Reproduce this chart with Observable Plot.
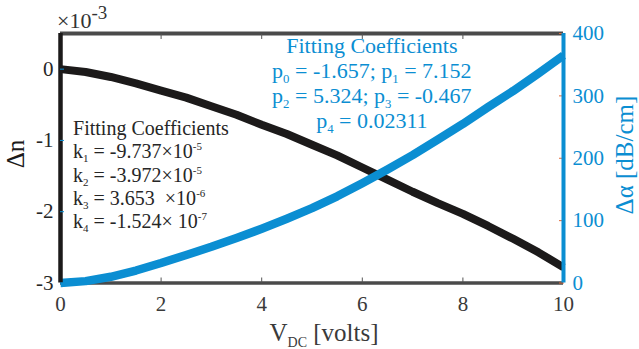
<!DOCTYPE html>
<html><head><meta charset="utf-8">
<script src="https://cdn.jsdelivr.net/npm/d3@7"></script>
<script src="https://cdn.jsdelivr.net/npm/@observablehq/plot@0.6"></script>
<style>
body{margin:0;background:#fff}
svg{display:block}
</style>
</head><body><div id="chart"></div>
<script>
// ---- data ----
const voltage = [0,0.5,1,1.5,2,2.5,3,3.5,4,4.5,5,5.5,6,6.5,7,7.5,8,8.5,9,9.5,10];
const deltaN = [0,-0.04,-0.11,-0.2,-0.3,-0.4,-0.52,-0.64,-0.78,-0.91,-1.06,-1.21,-1.38,-1.55,-1.72,-1.88,-2.03,-2.2,-2.38,-2.57,-2.78]; // ×10^-3
const deltaAlpha = [0,3,10,20,32,45,58,72,87,103,120,139,160,182,205,230,255,282,308,336,365]; // dB/cm
const xTicks = [0,2,4,6,8,10];
const xInnerTicks = [2,4,6,8];
const nTicks = [0,-1,-2,-3];
const alphaTicks = [0,100,200,300,400];
const xDomain = [0,10];
const nDomain = [-3,0.5];
const alphaDomain = [0,400];
const kLines = ["Fitting Coefficients","k_{1} = -9.737×10^{-5}","k_{2} = -3.972×10^{-5}","k_{3} = 3.653  ×10^{-6}","k_{4} = -1.524× 10^{-7}"];
const pLines = ["Fitting Coefficients","p_{0} = -1.657; p_{1} = 7.152","p_{2} = 5.324; p_{3} = -0.467","p_{4} = 0.02311"];

const BLUE = "#0b8ed2";
const BLACK = "#1c1a1a";
const FONT = '"Liberation Serif", "Times New Roman", Times, "DejaVu Serif", serif';

const toN = a => nDomain[0] + (a - alphaDomain[0]) / (alphaDomain[1] - alphaDomain[0]) * (nDomain[1] - nDomain[0]);
const fromN = n => alphaDomain[0] + (n - nDomain[0]) / (nDomain[1] - nDomain[0]) * (alphaDomain[1] - alphaDomain[0]);

const nData = voltage.map((v, i) => ({v, y: deltaN[i]}));
const aData = voltage.map((v, i) => ({v, y: toN(deltaAlpha[i])}));

const plot = Plot.plot({
  width: 639, height: 349,
  marginLeft: 60, marginRight: 76, marginTop: 33, marginBottom: 66.5,
  style: {background: "white", overflow: "visible"},
  x: {domain: xDomain},
  y: {domain: nDomain},
  marks: [
    Plot.ruleY([nDomain[1]], {stroke: "#4a4a4a", strokeWidth: 4}),
    Plot.ruleY([nDomain[0]], {stroke: "#4a4a4a", strokeWidth: 3.5}),
    Plot.axisX({anchor: "top", ticks: xInnerTicks, tickSize: -5, tickFormat: () => "", stroke: "#555", label: null}),
    Plot.axisX({anchor: "bottom", ticks: xInnerTicks, tickSize: -5, tickFormat: () => "", stroke: "#555", label: null}),
    Plot.axisX({anchor: "bottom", ticks: xTicks, tickSize: 0, tickPadding: 13, fill: "#3a3a3a", label: null,
      tickFormat: d => String(d)}),
    Plot.lineY(nData, {x: "v", y: "y", stroke: BLACK, strokeWidth: 8, strokeLinecap: "butt"}),
    Plot.lineY(aData, {x: "v", y: "y", stroke: BLUE, strokeWidth: 8.5, strokeLinecap: "butt"}),
    Plot.ruleX([xDomain[0]], {stroke: BLACK, strokeWidth: 4.5}),
    Plot.axisY({anchor: "left", ticks: nTicks, tickSize: -4, tickFormat: () => "", stroke: BLUE, label: null}),
    Plot.axisY({anchor: "left", ticks: nTicks, tickSize: 0, tickPadding: 7, fill: "#262626", label: null,
      tickFormat: d => String(d)}),
    Plot.axisY({anchor: "right", ticks: alphaTicks.map(toN), tickSize: -5, tickFormat: () => "", stroke: "#e06a3a", label: null}),
    Plot.ruleX([xDomain[1]], {stroke: BLUE, strokeWidth: 4}),
    Plot.axisY({anchor: "right", ticks: alphaTicks.map(toN), tickSize: 0, tickPadding: 9, fill: BLUE, label: null,
      tickFormat: d => String(Math.round(fromN(d)))})
  ]
});
document.getElementById("chart").appendChild(plot);

const svg = d3.select(plot);
// serif tick labels
svg.selectAll("g[aria-label$='tick label']").attr("font-family", null).attr("font-variant", null);
svg.selectAll("text").style("font-family", FONT).style("font-size", "21px").style("font-variant", "normal");

// ---- rich text helpers (sub/superscripts) ----
function parts(str) {
  return str.split(/(_\{[^}]*\}|\^\{[^}]*\})/).filter(s => s.length).map(s =>
    s.startsWith("_{") ? [s.slice(2, -1), "sub"] : s.startsWith("^{") ? [s.slice(2, -1), "sup"] : [s, "n"]);
}
function richText(g, x, y, str, {size, fill, anchor = "start", rotate = null, small = 0.55, supSize = null}) {
  const t = g.append("text")
    .attr("x", x).attr("y", y)
    .style("font-family", FONT).attr("font-size", size)
    .attr("fill", fill).attr("text-anchor", anchor)
    .style("white-space", "pre");
  if (rotate !== null) t.attr("transform", `rotate(${rotate},${x},${y})`);
  let shift = 0;
  for (const [s, mode] of parts(str)) {
    const target = mode === "sub" ? size * 0.22 : mode === "sup" ? -size * 0.42 : 0;
    const fs = mode === "n" ? size : mode === "sup" && supSize ? supSize : size * small;
    t.append("tspan").attr("dy", target - shift).attr("font-size", fs).text(s);
    shift = target;
  }
  return t;
}

const g = svg.append("g");
const xs = plot.scale("x");

// exponent label
richText(g, 57, 28, "×10^{-3}", {size: 22, fill: "#333", supSize: 19});
// axis titles
richText(g, 24, 154, "Δn", {size: 25, fill: BLACK, anchor: "middle", rotate: -90});
richText(g, 324, 341, "V_{DC} [volts]", {size: 25, fill: "#3a3a3a", anchor: "middle", small: 0.56});
richText(g, 633, 155, "Δα [dB/cm]", {size: 25, fill: BLUE, anchor: "middle", rotate: -90});

// black annotation
const kY = [135, 158, 182, 205, 228];
kLines.forEach((s, i) => richText(g, xs.apply(0.26), kY[i], s, {size: 20, fill: "#262626", small: 0.55}));
// blue annotation
const pY = [53, 78, 103, 128];
pLines.forEach((s, i) => richText(g, xs.apply(6.2), pY[i], s, {size: 22, fill: BLUE, anchor: "middle", small: 0.58}));
</script>
</body></html>
